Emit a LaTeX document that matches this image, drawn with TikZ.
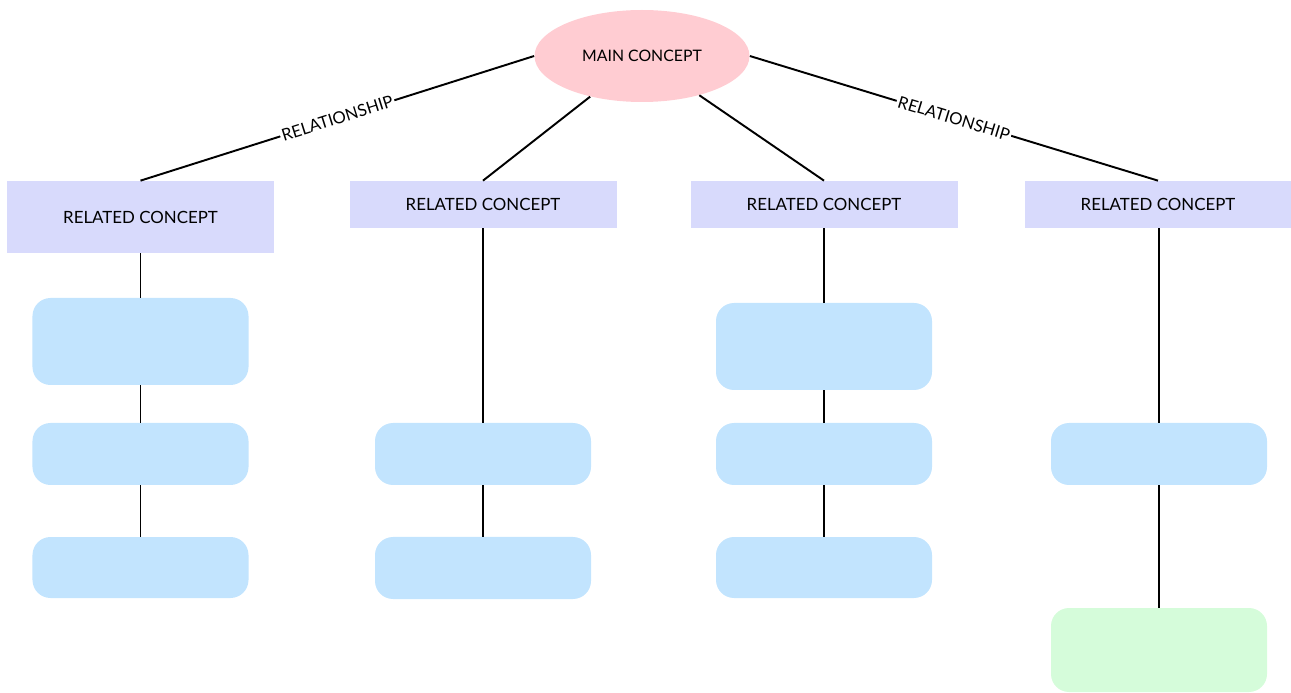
\documentclass[tikz,border=0pt]{standalone}
\usepackage{fontspec}
\setmainfont{Lato}
\usepackage{tikz}
\usetikzlibrary{positioning, shapes.geometric}
\definecolor{mainpink}{HTML}{FFCCD2}
\definecolor{relviolet}{HTML}{D8DAFC}
\definecolor{subblue}{HTML}{C2E4FE}
\definecolor{leafgreen}{HTML}{D5FCDA}

\begin{document}
\begin{tikzpicture}[
    concept/.style={ellipse, fill=mainpink, minimum width=4.3cm, minimum height=1.84cm, font=\fontsize{9}{11}\selectfont},
    related/.style={rectangle, fill=relviolet, minimum width=5.34cm, minimum height=#1, font=\fontsize{9.6}{11}\selectfont, inner sep=0pt},
    detail/.style={rectangle, rounded corners=0.36cm, fill=#1, minimum width=4.32cm, inner sep=0pt},
    link/.style={line width=1.1pt},
    rel/.style={font=\fontsize{9.5}{11}\selectfont, sloped, fill=white, inner sep=1pt, midway},
]
    \useasboundingbox (0,0) rectangle (25.82,-13.86);

    % Main concept
    \node[concept] (main) at (12.84, -1.12) {MAIN CONCEPT};

    % Related concepts
    \node[related=1.44cm] (rel1) at (2.81, -4.34) {RELATED CONCEPT};
    \node[related=0.94cm] (rel2) at (9.66, -4.09) {RELATED CONCEPT};
    \node[related=0.94cm] (rel3) at (16.48, -4.09) {RELATED CONCEPT};
    \node[related=0.94cm, minimum width=5.32cm] (rel4) at (23.16, -4.09) {RELATED CONCEPT};

    % Details, column 1
    \node[detail=subblue, minimum height=1.74cm] (d11) at (2.81, -6.83) {};
    \node[detail=subblue, minimum height=1.24cm] (d12) at (2.81, -9.08) {};
    \node[detail=subblue, minimum height=1.22cm] (d13) at (2.81, -11.35) {};

    % Details, column 2
    \node[detail=subblue, minimum height=1.24cm] (d21) at (9.66, -9.08) {};
    \node[detail=subblue, minimum height=1.24cm] (d22) at (9.66, -11.36) {};

    % Details, column 3
    \node[detail=subblue, minimum height=1.74cm] (d31) at (16.48, -6.93) {};
    \node[detail=subblue, minimum height=1.24cm] (d32) at (16.48, -9.08) {};
    \node[detail=subblue, minimum height=1.22cm] (d33) at (16.48, -11.35) {};

    % Details, column 4
    \node[detail=subblue, minimum height=1.24cm] (d41) at (23.18, -9.08) {};
    \node[detail=leafgreen, minimum height=1.68cm] (d42) at (23.18, -13.0) {};

    % Links from main concept
    \draw[link] (main.west) -- node[rel] {RELATIONSHIP} (rel1.north);
    \draw[link] (main) -- (rel2.north);
    \draw[link] (main) -- (rel3.north);
    \draw[link] (main.east) -- node[rel] {RELATIONSHIP} (rel4.north);

    % Vertical links
    \draw[link] (rel1.south) -- (d11.north);
    \draw[link] (d11.south) -- (d12.north);
    \draw[link] (d12.south) -- (d13.north);
    \draw[link] (rel2.south) -- (d21.north);
    \draw[link] (d21.south) -- (d22.north);
    \draw[link] (rel3.south) -- (d31.north);
    \draw[link] (d31.south) -- (d32.north);
    \draw[link] (d32.south) -- (d33.north);
    \draw[link] (d41.north |- rel4.south) -- (d41.north);
    \draw[link] (d41.south) -- (d42.north);

\end{tikzpicture}
\end{document}
